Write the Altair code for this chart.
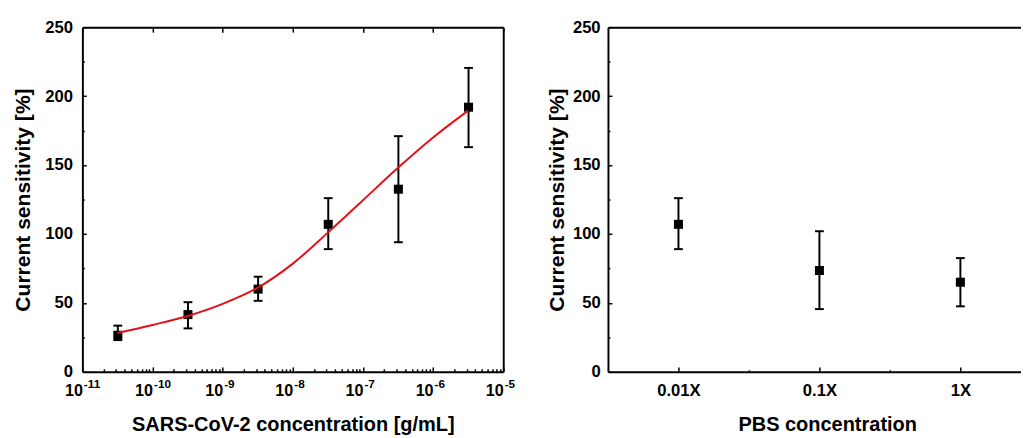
import json
import altair as alt
import pandas as pd

# ---------------- data ----------------
conc = [3.2e-11, 3.2e-10, 3.2e-9, 3.2e-8, 3.2e-7, 3.2e-6]
sens = [26.5, 41.5, 60.0, 107.0, 132.5, 192.0]
sens_lo = [23.0, 31.5, 51.5, 89.0, 94.0, 163.0]
sens_hi = [33.5, 50.5, 69.0, 126.0, 171.0, 220.5]

fit_conc = [3.16e-11, 1e-10, 3.16e-10, 1e-9, 3.16e-9, 1e-8, 3.16e-8, 1e-7, 3.16e-7, 1e-6, 3.16e-6]
fit_sens = [28.2, 34.0, 40.5, 49.3, 61.0, 78.5, 101.0, 124.5, 148.0, 170.0, 189.5]

pbs_cat = ["0.01X", "0.1X", "1X"]
pbs_sens = [107.0, 73.5, 65.0]
pbs_lo = [89.0, 45.5, 47.5]
pbs_hi = [126.0, 102.0, 82.5]

decade_ticks = [1e-11, 1e-10, 1e-9, 1e-8, 1e-7, 1e-6, 1e-5]
decade_exponents = ["-11", "-10", "-9", "-8", "-7", "-6", "-5"]
minor_ticks = [m * d for d in decade_ticks[:-1] for m in range(2, 10)]
y_major = [0, 50, 100, 150, 200, 250]
y_minor = [25, 75, 125, 175, 225]
pbs_minor = [1.5, 2.5]

FONT = "Liberation Sans"
RED = "#e3101a"

left_df = pd.DataFrame({"conc": conc, "sens": sens, "lo": sens_lo, "hi": sens_hi})
fit_df = pd.DataFrame({"conc": fit_conc, "sens": fit_sens})
pbs_df = pd.DataFrame({"pos": [i + 1 for i in range(len(pbs_cat))], "cat": pbs_cat,
                       "sens": pbs_sens, "lo": pbs_lo, "hi": pbs_hi})

def neg(v):
    return alt.ExprRef(expr=str(-v))

# ---------------- left panel ----------------
xs = alt.Scale(type="log", domain=[1e-11, 1e-5])
ys = alt.Scale(domain=[0, 250], nice=False)

exp_expr = json.dumps(decade_exponents) + "[round(log(datum.value)/LN10)+11]"

# base "10" of each decade label, right-aligned at the tick
ax_x_major = alt.Axis(orient="bottom", values=decade_ticks, labelExpr="'10'", tickSize=neg(5),
                      labelPadding=16, labelAlign="right", labelOffset=0, labelFontSize=16.5,
                      labelFlush=False, labelOverlap=False,
                      title="SARS-CoV-2 concentration [g/mL]", titleY=60, titleBaseline="alphabetic")
# superscript exponents
ax_x_exp = alt.Axis(orient="bottom", values=decade_ticks, labelExpr=exp_expr, ticks=False,
                    domain=False, labelPadding=7.5, labelAlign="left", labelOffset=1,
                    labelFontSize=12, labelFlush=False, labelOverlap=False, title=None)
ax_x_minor = alt.Axis(orient="bottom", values=minor_ticks, labels=False, domain=False,
                      tickSize=neg(3), title=None)
ax_x_top = alt.Axis(orient="top", values=decade_ticks, labels=False, tickSize=neg(5), title=None)
ax_y_major = alt.Axis(orient="left", values=y_major, tickSize=neg(4), labelPadding=14,
                      title="Current sensitivity [%]", titleX=-60, titleFontSize=21.5,
                      titleBaseline="middle")
ax_y_minor = alt.Axis(orient="left", values=y_minor, labels=False, domain=False,
                      tickSize=neg(2), title=None)
ax_y_right = alt.Axis(orient="right", labels=False, ticks=False, title=None)

bars = alt.Chart(left_df).mark_rule(color="black", strokeWidth=2).encode(
    x=alt.X("conc:Q", scale=xs, axis=ax_x_top),
    y=alt.Y("lo:Q", scale=ys, axis=ax_y_right), y2="hi:Q")
cap_lo = alt.Chart(left_df).mark_tick(orient="horizontal", size=9, thickness=2, color="black", opacity=1).encode(
    x=alt.X("conc:Q", scale=xs, axis=ax_x_exp), y=alt.Y("lo:Q", scale=ys, axis=None))
cap_hi = alt.Chart(left_df).mark_tick(orient="horizontal", size=9, thickness=2, color="black", opacity=1).encode(
    x=alt.X("conc:Q", scale=xs, axis=None), y=alt.Y("hi:Q", scale=ys, axis=None))
pts = alt.Chart(left_df).mark_square(size=85, color="black", opacity=1).encode(
    x=alt.X("conc:Q", scale=xs, axis=ax_x_major),
    y=alt.Y("sens:Q", scale=ys, axis=ax_y_major))
fit = alt.Chart(fit_df).mark_line(color=RED, strokeWidth=2, interpolate="monotone").encode(
    x=alt.X("conc:Q", scale=xs, axis=ax_x_minor),
    y=alt.Y("sens:Q", scale=ys, axis=ax_y_minor))

left = alt.layer(bars, cap_lo, cap_hi, pts, fit).resolve_axis(
    x="independent", y="independent").properties(width=430, height=352)

# ---------------- right panel ----------------
xs2 = alt.Scale(domain=[0.5, 3.43], nice=False, zero=False)
cat_expr = json.dumps(pbs_cat) + "[datum.value-1]"

ax2_x_major = alt.Axis(orient="bottom", values=[1, 2, 3], labelExpr=cat_expr, tickSize=neg(5),
                       labelPadding=16, labelFlush=False, labelOverlap=False,
                       title="PBS concentration", titleX=224, titleY=60, titleBaseline="alphabetic")
ax2_x_minor = alt.Axis(orient="bottom", values=pbs_minor, labels=False, domain=False,
                       tickSize=neg(2), title=None)
ax2_x_top = alt.Axis(orient="top", labels=False, ticks=False, title=None)
ax2_y_major = alt.Axis(orient="left", values=y_major, tickSize=neg(4), labelPadding=12,
                       title="Current sensitivity [%]", titleX=-51, titleFontSize=21.5,
                       titleBaseline="middle")
ax2_y_minor = alt.Axis(orient="left", values=y_minor, labels=False, domain=False,
                       tickSize=neg(2), title=None)

bars2 = alt.Chart(pbs_df).mark_rule(color="black", strokeWidth=2).encode(
    x=alt.X("pos:Q", scale=xs2, axis=ax2_x_minor),
    y=alt.Y("lo:Q", scale=ys, axis=ax2_y_minor), y2="hi:Q")
cap2_lo = alt.Chart(pbs_df).mark_tick(orient="horizontal", size=9, thickness=2, color="black", opacity=1).encode(
    x=alt.X("pos:Q", scale=xs2, axis=ax2_x_top), y=alt.Y("lo:Q", scale=ys, axis=None))
cap2_hi = alt.Chart(pbs_df).mark_tick(orient="horizontal", size=9, thickness=2, color="black", opacity=1).encode(
    x=alt.X("pos:Q", scale=xs2, axis=None), y=alt.Y("hi:Q", scale=ys, axis=None))
pts2 = alt.Chart(pbs_df).mark_square(size=85, color="black", opacity=1).encode(
    x=alt.X("pos:Q", scale=xs2, axis=ax2_x_major),
    y=alt.Y("sens:Q", scale=ys, axis=ax2_y_major))

right = alt.layer(bars2, cap2_lo, cap2_hi, pts2).resolve_axis(
    x="independent", y="independent").properties(width=422, height=352)

chart = alt.hconcat(left, right, spacing=33).properties(
    padding={"left": 5, "top": 6, "right": 0, "bottom": 0}
).configure_view(stroke=None).configure_axis(
    grid=False, labelFont=FONT, labelFontSize=17, labelFontWeight="bold", labelColor="black",
    titleFont=FONT, titleFontSize=20.4, titleFontWeight="bold", titleColor="black",
    domainColor="black", domainWidth=2, tickColor="black", tickWidth=1.5,
)

chart.save("out.html", embed_options={"renderer": "svg", "actions": False})
